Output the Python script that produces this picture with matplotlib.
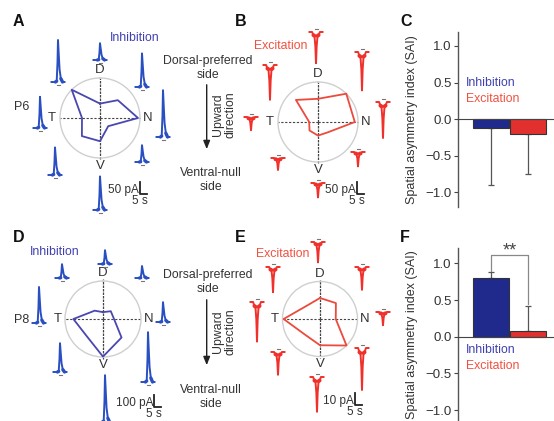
import numpy as np
import matplotlib
matplotlib.use("Agg")
import matplotlib.pyplot as plt

plt.rcParams['font.family'] = ['Liberation Sans', 'DejaVu Sans']

W, H = 554, 421

# ---------------- data ----------------
directions = ['D', 'DN', 'N', 'VN', 'V', 'VT', 'T', 'DT']
angles_deg = [0, 45, 90, 135, 180, 225, 270, 315]

# normalized response (radar polygons)
A_inh_r = [0.36, 0.63, 0.95, 0.29, 0.58, 0.64, 0.45, 1.00]
B_exc_r = [0.58, 1.00, 0.92, 0.36, 0.34, 0.30, 0.22, 0.78]
D_inh_r = [0.18, 0.29, 0.29, 0.69, 0.99, 0.62, 0.78, 0.31]
E_exc_r = [0.56, 0.60, 0.42, 1.00, 0.70, 0.58, 0.97, 0.50]

# trace peak amplitudes (pA)
A_inh_amp = [70, 140, 195, 70, 140, 115, 130, 175]
B_exc_amp = [130, 160, 150, 60, 60, 50, 55, 145]
D_inh_amp = [115, 100, 165, 415, 390, 240, 300, 115]
E_exc_amp = [17, 19, 11, 35, 29, 19, 33, 21]

# SAI bars
sai_groups = ['Inhibition', 'Excitation']
C_sai = [-0.12, -0.20]
C_err = [0.78, 0.55]
F_sai = [0.80, 0.08]
F_err = [0.08, 0.34]

# trace waveform templates (normalized)
inh_t = [0.0, 0.30, 0.40, 0.46, 0.50, 0.55, 0.62, 0.72, 0.85, 1.0]
inh_y = [0.0, 0.0, 0.02, 0.45, 1.0, 0.70, 0.30, 0.08, 0.0, 0.0]
exc_t = [0.0, 0.20, 0.30, 0.38, 0.45, 0.50, 0.55, 0.62, 0.70, 0.80, 1.0]
exc_y = [0.0, 0.0, 0.10, 0.12, 0.45, 1.0, 0.45, 0.12, 0.10, 0.0, 0.0]

# ---------------- styles ----------------
INH_LINE = '#4a48b0'
EXC_LINE = '#ec4a3c'
INH_TRACE = '#2a4fc0'
EXC_TRACE = '#f0302a'
INH_BAR = '#1f2a8c'
EXC_BAR = '#e2302e'
INH_TXT = '#4040b0'
EXC_TXT = '#f05040'
TXT = '#333333'

fig = plt.figure(figsize=(W / 100, H / 100), dpi=100)
fig.patch.set_facecolor('white')


def px_axes(left, top, right, bottom, **kw):
    return fig.add_axes([left / W, 1 - bottom / H, (right - left) / W, (bottom - top) / H], **kw)


# overlay for traces & text
ov = px_axes(0, 0, W, H)
ov.set_xlim(0, W)
ov.set_ylim(H, 0)
ov.axis('off')
ov.set_zorder(5)
ov.patch.set_alpha(0)


def radar(cx, cy, R, radii, color):
    ax = px_axes(cx - R, cy - R, cx + R, cy + R, projection='polar')
    ax.set_theta_zero_location('N')
    ax.set_theta_direction(-1)
    ax.set_ylim(0, 1)
    ax.set_xticks([])
    ax.set_yticks([])
    ax.grid(False)
    ax.spines['polar'].set_color('#cfcfcf')
    ax.spines['polar'].set_linewidth(1.0)
    for th in [0, 180]:
        ax.plot([np.radians(th)] * 2, [0, 1.04], color='#444444', lw=0.9,
                ls=(0, (2, 0.8)), clip_on=False, zorder=2)
    for th in [90, 270]:
        ax.plot([np.radians(th)] * 2, [0, 1.0], color='#444444', lw=0.8,
                ls=(0, (2, 1.5)), clip_on=False, zorder=2)
    th = np.radians(angles_deg + [angles_deg[0]])
    rr = list(radii) + [radii[0]]
    ax.plot(th, rr, color=color, lw=1.3, zorder=3, clip_on=False)
    for lab, a in zip(['D', 'N', 'V', 'T'], [0, 90, 180, 270]):
        ax.text(np.radians(a), 1.2, lab, ha='center', va='center',
                fontsize=9.5, color=TXT, clip_on=False)
    return ax


def trace(x0, y0, amp_px, kind):
    if kind == 'inh':
        xs = x0 + (np.array(inh_t) - 0.5) * 13
        ys = y0 - amp_px * np.array(inh_y)
        ov.plot(xs, ys, color=INH_TRACE, lw=1.4, solid_joinstyle='round')
        ov.plot(xs[1:3], ys[1:3], color=INH_TRACE, lw=2.4, solid_capstyle='round')
        ov.plot(xs[7:9], ys[7:9], color=INH_TRACE, lw=2.4, solid_capstyle='round')
        ov.plot([x0 - 1.5, x0 + 1.5], [y0 + 3] * 2, color='#777777', lw=0.8)
    else:
        xs = x0 + (np.array(exc_t) - 0.5) * 13
        ys = y0 + amp_px * np.array(exc_y)
        ov.plot(xs, ys, color=EXC_TRACE, lw=1.4, solid_joinstyle='round')
        ov.plot(xs[2:4], ys[2:4], color=EXC_TRACE, lw=2.8, solid_capstyle='round')
        ov.plot(xs[7:9], ys[7:9], color=EXC_TRACE, lw=2.8, solid_capstyle='round')
        ov.plot([x0 - 1.5, x0 + 1.5], [y0 - 3] * 2, color='#777777', lw=0.8)


def scalebar(x, y, label, color=TXT):
    ov.plot([x, x, x + 7], [y - 12, y, y], color='#222222', lw=1.3)
    ov.text(x - 1, y - 4, label, ha='right', va='center', fontsize=8.5, color=color)
    ov.text(x + 8, y + 7, '5 s', ha='right', va='center', fontsize=8.5, color=color)


# ---------------- Panel A ----------------
radar(100, 118, 40, A_inh_r, INH_LINE)
A_pos = [(100, 60), (142, 87), (163, 137), (142, 162), (100, 210), (55, 175), (40, 128), (58, 82)]
for (x, y), a in zip(A_pos, A_inh_amp):
    trace(x, y, a * 12 / 50, 'inh')
ov.text(110, 38, 'Inhibition', color=INH_TXT, fontsize=8.8, ha='left', va='center')
ov.text(14, 107, 'P6', color=TXT, fontsize=9, ha='left', va='center')
scalebar(140, 194, '50 pA')

# ---------------- Panel B ----------------
radar(318, 122, 40, B_exc_r, EXC_LINE)
B_pos = [(316, 32), (362, 52), (383, 102), (358, 152), (318, 183), (278, 158), (251, 117), (270, 65)]
for (x, y), a in zip(B_pos, B_exc_amp):
    trace(x, y, a * 12 / 50, 'exc')
ov.text(254, 46, 'Excitation', color=EXC_TXT, fontsize=8.8, ha='left', va='center')
scalebar(357, 194, '50 pA')

# ---------------- Panel D ----------------
radar(103, 319, 38, D_inh_r, INH_LINE)
D_pos = [(105, 264), (142, 278), (163, 322), (148, 382), (105, 422), (60, 372), (39, 323), (62, 278)]
for (x, y), a in zip(D_pos, D_inh_amp):
    trace(x, y, a * 12 / 100, 'inh')
ov.text(30, 252, 'Inhibition', color=INH_TXT, fontsize=8.8, ha='left', va='center')
ov.text(14, 320, 'P8', color=TXT, fontsize=9, ha='left', va='center')
scalebar(154, 407, '100 pA')

# ---------------- Panel E ----------------
radar(320, 319, 37.5, E_exc_r, EXC_LINE)
E_pos = [(318, 242), (362, 267), (383, 312), (362, 348), (317, 377), (278, 352), (257, 302), (273, 267)]
for (x, y), a in zip(E_pos, E_exc_amp):
    trace(x, y, a * 12 / 10, 'exc')
ov.text(256, 254, 'Excitation', color=EXC_TXT, fontsize=8.8, ha='left', va='center')
scalebar(355, 405, '10 pA')

# ---------------- middle annotations ----------------
for (y_dor, y0, y1, y_up, y_ven) in [(68, 82, 152, 115, 180), (282, 297, 368, 332, 397)]:
    ov.text(208, y_dor, 'Dorsal-preferred\nside', ha='center', va='center',
            fontsize=8.8, color=TXT, linespacing=1.15)
    ov.annotate('', xy=(206.7, y1), xytext=(206.7, y0),
                arrowprops=dict(arrowstyle='-|>,head_length=0.5,head_width=0.2',
                                color='#222222', lw=1.0))
    ov.text(224, y_up, 'Upward\ndirection', rotation=90, ha='center', va='center',
            fontsize=8.8, color=TXT, linespacing=1.0)
    ov.text(211, y_ven, 'Ventral-null\nside', ha='center', va='center',
            fontsize=8.8, color=TXT, linespacing=1.25)

# ---------------- panel letters ----------------
for lab, (x, y) in zip('ABCDEF', [(13, 22), (235, 22), (400, 22), (13, 237), (235, 237), (400, 237)]):
    ov.text(x, y, lab, fontsize=11.5, fontweight='bold', color='#111111', ha='left', va='center')


# ---------------- bar panels ----------------
def sai_panel(top, bottom, ylim, vals, errs, up):
    ax = px_axes(458, top, W, bottom)
    ax.set_xlim(-0.9, 1.7)
    ax.set_ylim(*ylim)
    x = np.arange(len(vals))
    ax.bar(x, vals, width=0.98, color=[INH_BAR, EXC_BAR], edgecolor='#333333', lw=0.8, zorder=2)
    yerr = [[0, 0], errs] if up else [errs, [0, 0]]
    ax.errorbar(x, vals, yerr=yerr, fmt='none', ecolor='#555555', elinewidth=0.9,
                capsize=2.2, capthick=0.9, zorder=1)
    for s in ['top', 'right']:
        ax.spines[s].set_visible(False)
    ax.spines['bottom'].set_position(('data', 0))
    ax.spines['bottom'].set_color('#444444')
    ax.spines['left'].set_color('#555555')
    ax.spines['left'].set_linewidth(1.0)
    ax.set_xticks([])
    ax.set_yticks([-1.0, -0.5, 0.0, 0.5, 1.0])
    ax.set_yticklabels(['\u22121.0', '\u22120.5', '0.0', '0.5', '1.0'])
    ax.tick_params(axis='y', length=3, width=0.8, pad=1.5, labelsize=9.5,
                   colors='#444444', labelcolor='#333333')
    ax.set_ylabel('Spatial asymmetry index (SAI)', fontsize=9, color='#333333')
    ax.yaxis.set_label_coords(-0.42, 0.5)
    ax.patch.set_alpha(0)
    return ax


axC = sai_panel(32, 207, (-1.2, 1.19), C_sai, C_err, up=False)
ov.text(466, 83, sai_groups[0], color=INH_TXT, fontsize=8.8, ha='left', va='center')
ov.text(466, 99, sai_groups[1], color=EXC_TXT, fontsize=8.8, ha='left', va='center')

axF = sai_panel(248, 421, (-1.15, 1.21), F_sai, F_err, up=True)
axF.plot([0, 0, 1, 1], [F_sai[0] + F_err[0] + 0.02, 1.11, 1.11, F_sai[1] + F_err[1] + 0.02],
         color='#888888', lw=0.9, clip_on=False)
axF.text(0.5, 1.06, '**', ha='center', va='bottom', fontsize=13, color='#444444')
ov.text(466, 350, sai_groups[0], color=INH_TXT, fontsize=8.8, ha='left', va='center')
ov.text(466, 366, sai_groups[1], color=EXC_TXT, fontsize=8.8, ha='left', va='center')

fig.savefig('out.png', dpi=100, facecolor='white')
